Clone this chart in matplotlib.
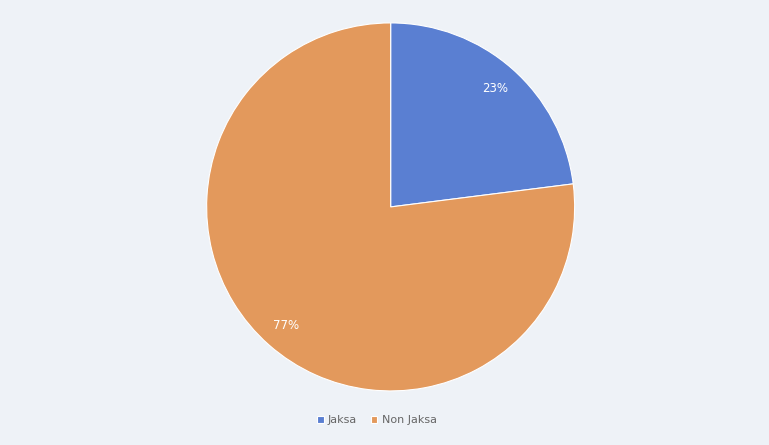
import matplotlib
matplotlib.use('Agg')
import matplotlib.pyplot as plt

labels = ['Jaksa', 'Non Jaksa']
values = [23, 77]
colors = {'Jaksa': '#5a7fd2', 'Non Jaksa': '#e3995c'}
bg = '#eef2f7'

fig = plt.figure(figsize=(7.69, 4.45), dpi=100)
fig.patch.set_facecolor(bg)

ax = fig.add_axes([0.508 - 0.2393, 0.535 - 0.4135, 0.4786, 0.827])
ax.set_facecolor(bg)
wedges, texts, autotexts = ax.pie(
    values, labels=None, colors=[colors[l] for l in labels],
    startangle=90, counterclock=False, autopct='%1.0f%%', pctdistance=0.86,
    wedgeprops={'edgecolor': 'white', 'linewidth': 0.8},
    textprops={'color': 'white', 'fontsize': 8.5})
ax.set_aspect('equal')
ax.set_xlim(-1.0, 1.0)
ax.set_ylim(-1.0, 1.0)

fig.legend(wedges, labels, loc='center', bbox_to_anchor=(0.49, 0.056), ncol=2,
           frameon=False, fontsize=8, handlelength=0.6, handleheight=0.6,
           columnspacing=1.2, handletextpad=0.4, labelcolor='#666666')

fig.savefig('out.png', dpi=100, facecolor=bg)
